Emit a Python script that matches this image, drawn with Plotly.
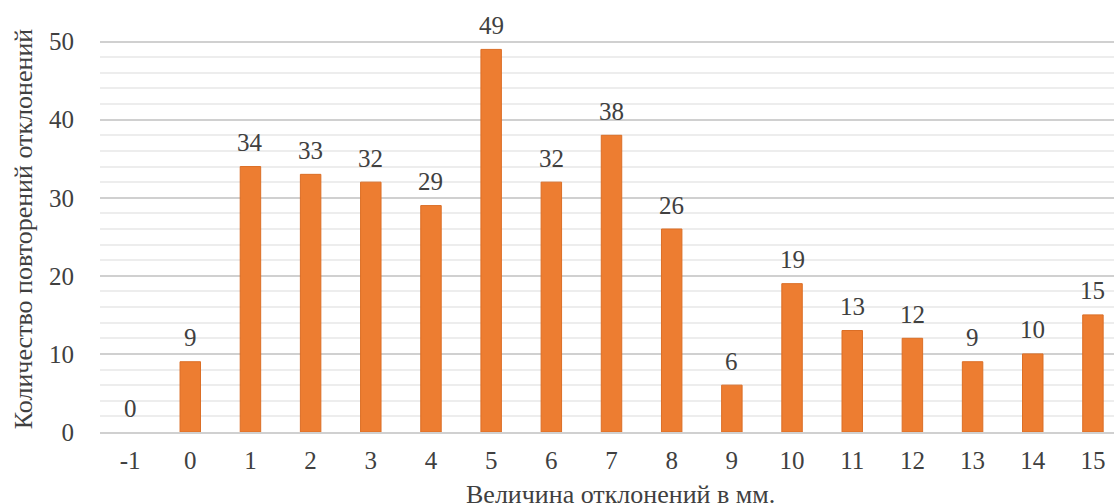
import plotly.graph_objects as go

# Отклонения (мм) и число их повторений
deviations = [-1, 0, 1, 2, 3, 4, 5, 6, 7, 8, 9, 10, 11, 12, 13, 14, 15]
counts = [0, 9, 34, 33, 32, 29, 49, 32, 38, 26, 6, 19, 13, 12, 9, 10, 15]
tick_labels = [str(d) for d in deviations]
x_title = "Величина отклонений в мм."
y_title = "Количество повторений отклонений"

FONT = "Liberation Serif"
TEXT_COLOR = "#404040"
LABEL_SIZE = 25
TITLE_SIZE = 26

# Нулевой столбец без контура, чтобы не было видно линии
edge_widths = [1 if c > 0 else 0 for c in counts]

fig = go.Figure()
fig.add_trace(go.Bar(
    x=deviations,
    y=counts,
    width=0.34,
    marker=dict(color="#ED7D31", line=dict(color="#DB6E26", width=edge_widths)),
    hoverinfo="x+y",
))

# Подписи значений над столбцами
for d, c in zip(deviations, counts):
    fig.add_annotation(
        x=d, y=c, text=str(c), showarrow=False,
        yanchor="middle", yshift=24,
        font=dict(family=FONT, size=LABEL_SIZE, color=TEXT_COLOR),
    )

# Подпись горизонтальной оси (у нижнего края, частично обрезана)
fig.add_annotation(
    xref="paper", yref="paper", x=0.513, y=0,
    xanchor="center", yanchor="top", yshift=-46,
    text=x_title, showarrow=False,
    font=dict(family=FONT, size=TITLE_SIZE, color=TEXT_COLOR),
)

fig.update_layout(
    width=1114, height=504,
    margin=dict(l=100, r=0, t=26, b=72),
    paper_bgcolor="white", plot_bgcolor="white",
    showlegend=False,
    font=dict(family=FONT, size=LABEL_SIZE, color=TEXT_COLOR),
)

fig.update_xaxes(
    range=[-1.5, 15.35],
    tickmode="array", tickvals=deviations, ticktext=tick_labels,
    showgrid=False, zeroline=False,
    showline=True, linecolor="#D0D0D0", linewidth=1.5,
    ticks="", ticklabelstandoff=5,
    tickfont=dict(family=FONT, size=LABEL_SIZE, color=TEXT_COLOR),
)

fig.update_yaxes(
    range=[0, 52],
    tickmode="linear", tick0=0, dtick=10,
    showgrid=True, gridcolor="#D0D0D0", gridwidth=1.5,
    minor=dict(dtick=2, showgrid=True, gridcolor="#EDEDED", gridwidth=1.5),
    zeroline=False, showline=False,
    ticks="", ticklabelstandoff=25,
    tickfont=dict(family=FONT, size=LABEL_SIZE, color=TEXT_COLOR),
    title=dict(text=y_title, standoff=8,
               font=dict(family=FONT, size=TITLE_SIZE, color=TEXT_COLOR)),
)

fig.write_html("out.html")
